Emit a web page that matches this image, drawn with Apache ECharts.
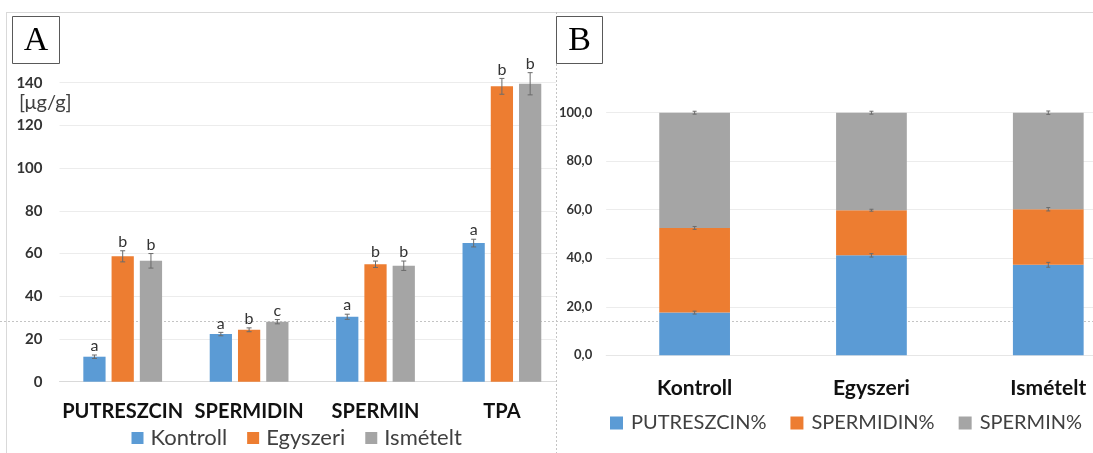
<!DOCTYPE html>
<html><head><meta charset="utf-8">
<script src="https://cdn.jsdelivr.net/npm/echarts@6/dist/echarts.min.js"></script>
<style>
html,body{margin:0;padding:0;background:#fff;}
#wrap{position:relative;width:1093px;height:453px;overflow:hidden;background:#fff;}
#chartA{position:absolute;left:0;top:0;width:640px;height:453px;z-index:1;}
#chartB{position:absolute;left:556px;top:0;width:640px;height:453px;z-index:2;background:#fff;}
</style></head><body>
<div id="wrap"><div id="chartA"></div><div id="chartB"></div></div>
<script>
// ---------- Panel A data ----------
const categoriesA = ['PUTRESZCIN', 'SPERMIDIN', 'SPERMIN', 'TPA'];
const seriesNamesA = ['Kontroll', 'Egyszeri', 'Ismételt'];
const kontroll = [11.7, 22.3, 30.4, 64.9];
const egyszeri = [58.7, 24.3, 55.0, 138.3];
const ismetelt = [56.6, 28.1, 54.3, 139.5];
const kontrollErr = [0.8, 0.8, 1.2, 1.8];
const egyszeriErr = [2.6, 0.9, 1.5, 3.7];
const ismeteltErr = [3.4, 1.0, 2.2, 5.2];
const kontrollLetters = ['a', 'a', 'a', 'a'];
const egyszeriLetters = ['b', 'b', 'b', 'b'];
const ismeteltLetters = ['b', 'c', 'b', 'b'];
const unitLabelA = '[μg/g]';

// ---------- Panel B data ----------
const categoriesB = ['Kontroll', 'Egyszeri', 'Ismételt'];
const seriesNamesB = ['PUTRESZCIN%', 'SPERMIDIN%', 'SPERMIN%'];
const putreszcinPct = [17.6, 41.2, 37.3];
const spermidinPct = [34.9, 18.6, 22.9];
const sperminPct = [47.5, 40.2, 39.8];
const putreszcinPctErr = [0.6, 0.7, 1.0];
const spermidinPctErr = [0.6, 0.4, 0.7];
const sperminPctErr = [0.6, 0.6, 0.7];
const yTickLabelsB = ['0,0', '20,0', '40,0', '60,0', '80,0', '100,0'];

const COLORS = ['#5B9BD5', '#ED7D31', '#A5A5A5'];
const FONT = 'Lato, "Open Sans", sans-serif';
const BAR_W = 0.176, BAR_GAP = 0.27;
const ERR_COLOR = '#6b6b6b';

function errShapes(x, yt, yb, cap) {
  const st = { stroke: ERR_COLOR, lineWidth: 1 };
  return [
    { type: 'line', shape: { x1: x, y1: yt, x2: x, y2: yb }, style: st },
    { type: 'line', shape: { x1: x - cap, y1: yt, x2: x + cap, y2: yt }, style: st },
    { type: 'line', shape: { x1: x - cap, y1: yb, x2: x + cap, y2: yb }, style: st }
  ];
}

function errSeriesA(k, vals, errs, letters) {
  return {
    type: 'custom', z: 5, silent: true,
    data: vals.map((v, i) => [i, v, errs[i]]),
    renderItem: function (params, api) {
      const i = api.value(0), v = api.value(1), e = api.value(2);
      const band = api.size([1, 0])[0];
      const off = (k - 1) * band * BAR_W * (1 + BAR_GAP);
      const x = api.coord([i, v])[0] + off;
      const yt = api.coord([i, v + e])[1];
      const yb = api.coord([i, v - e])[1];
      const ch = errShapes(x, yt, yb, 2.5);
      ch.push({ type: 'text', style: { text: letters[params.dataIndex], x: x, y: yt - 1,
        align: 'center', verticalAlign: 'bottom', font: '16px ' + FONT, fill: '#333' } });
      return { type: 'group', children: ch };
    }
  };
}

const chartA = echarts.init(document.getElementById('chartA'), null, { renderer: 'canvas' });
const valsA = [kontroll, egyszeri, ismetelt];
const errsA = [kontrollErr, egyszeriErr, ismeteltErr];
const lettersA = [kontrollLetters, egyszeriLetters, ismeteltLetters];
chartA.setOption({
  backgroundColor: '#fff',
  animation: false,
  grid: { left: 59.5, top: 82.7, width: 505.6, height: 299 },
  legend: {
    data: seriesNamesA, left: 131.5, top: 427, padding: 0, icon: 'rect', itemWidth: 12, itemHeight: 12, itemGap: 20,
    textStyle: { fontFamily: FONT, fontSize: 22, color: '#404040', padding: [0, 0, 0, 2] }
  },
  xAxis: {
    type: 'category', data: categoriesA,
    axisLine: { lineStyle: { color: '#d9d9d9' } }, axisTick: { show: false },
    axisLabel: { interval: 0, margin: 20, fontFamily: FONT, fontWeight: 'bold', fontSize: 20, color: '#111' }
  },
  yAxis: {
    type: 'value', min: 0, max: 140, interval: 20,
    axisLine: { show: false }, axisTick: { show: false },
    axisLabel: { margin: 17, fontFamily: FONT, fontWeight: 'bold', fontSize: 15, color: '#333' },
    splitLine: { lineStyle: { color: '#ececec' } }
  },
  series: [
    ...valsA.map((vals, k) => ({
      name: seriesNamesA[k], type: 'bar', data: vals, barWidth: (BAR_W * 100) + '%', barGap: (BAR_GAP * 100) + '%',
      itemStyle: { color: COLORS[k] }
    })),
    ...valsA.map((vals, k) => errSeriesA(k, vals, errsA[k], lettersA[k]))
  ],
  graphic: [
    { type: 'line', z: -1, shape: { x1: 0, y1: 321.5, x2: 556, y2: 321.5 }, style: { stroke: '#c4c4c4', lineWidth: 1, lineDash: [2, 2] } },
    { type: 'line', shape: { x1: 6, y1: 12.5, x2: 556, y2: 12.5 }, style: { stroke: '#d9d9d9', lineWidth: 1 } },
    { type: 'line', shape: { x1: 6.5, y1: 12, x2: 6.5, y2: 453 }, style: { stroke: '#d9d9d9', lineWidth: 1 } },
    { type: 'rect', shape: { x: 12.5, y: 16.5, width: 47, height: 47 }, style: { fill: '#fff', stroke: '#595959', lineWidth: 1 } },
    { type: 'text', style: { text: 'A', x: 36, y: 41, align: 'center', verticalAlign: 'middle', font: '34px "Liberation Serif", serif', fill: '#000' } },
    { type: 'text', style: { text: unitLabelA, x: 19, y: 102.7, align: 'left', verticalAlign: 'middle', font: '20px ' + FONT, fill: '#404040' } }
  ]
});

// ---------- Panel B ----------
function errSeriesB(vals, errs, base) {
  return {
    type: 'custom', z: 5, silent: true,
    data: vals.map((v, i) => [i, base[i] + v, errs[i]]),
    renderItem: function (params, api) {
      const i = api.value(0), v = api.value(1), e = api.value(2);
      const x = api.coord([i, v])[0];
      const yt = api.coord([i, v + e])[1];
      const yb = api.coord([i, v - e])[1];
      return { type: 'group', children: errShapes(x, yt, yb, 2) };
    }
  };
}
const valsB = [putreszcinPct, spermidinPct, sperminPct];
const errsB = [putreszcinPctErr, spermidinPctErr, sperminPctErr];
const basesB = [];
let acc = categoriesB.map(() => 0);
valsB.forEach(vals => { basesB.push(acc.slice()); acc = acc.map((a, i) => a + vals[i]); });

const chartB = echarts.init(document.getElementById('chartB'), null, { renderer: 'canvas' });
chartB.setOption({
  backgroundColor: '#fff',
  animation: false,
  grid: { left: 49.7, top: 112.7, width: 531, height: 242.6 },
  legend: {
    data: seriesNamesB, left: 54, top: 413, padding: 0, icon: 'rect', itemWidth: 13, itemHeight: 13, itemGap: 24,
    textStyle: { fontFamily: FONT, fontSize: 20, color: '#404040', padding: [0, 0, 0, 3] }
  },
  xAxis: {
    type: 'category', data: categoriesB,
    axisLine: { lineStyle: { color: '#e6e6e6' } }, axisTick: { show: false },
    axisLabel: { interval: 0, margin: 22, fontFamily: FONT, fontWeight: 'bold', fontSize: 21, color: '#111' }
  },
  yAxis: {
    type: 'value', min: 0, max: 100, interval: 20,
    axisLine: { show: false }, axisTick: { show: false },
    axisLabel: { margin: 14, fontFamily: FONT, fontWeight: 'bold', fontSize: 13, color: '#333',
      formatter: (v) => yTickLabelsB[Math.round(v / 20)] },
    splitLine: { lineStyle: { color: '#ececec' } }
  },
  series: [
    ...valsB.map((vals, k) => ({
      name: seriesNamesB[k], type: 'bar', stack: 'pct', data: vals, barWidth: '40%',
      itemStyle: { color: COLORS[k] }
    })),
    ...valsB.map((vals, k) => errSeriesB(vals, errsB[k], basesB[k]))
  ],
  graphic: [
    { type: 'line', z: -1, shape: { x1: 0, y1: 321.5, x2: 640, y2: 321.5 }, style: { stroke: '#c4c4c4', lineWidth: 1, lineDash: [2, 2] } },
    { type: 'line', shape: { x1: 0, y1: 12.5, x2: 640, y2: 12.5 }, style: { stroke: '#d9d9d9', lineWidth: 1 } },
    { type: 'line', shape: { x1: 0.5, y1: 12, x2: 0.5, y2: 453 }, style: { stroke: '#c4c4c4', lineWidth: 1, lineDash: [2, 2] } },
    { type: 'rect', shape: { x: 0.5, y: 16.5, width: 46, height: 47 }, style: { fill: '#fff', stroke: '#595959', lineWidth: 1 } },
    { type: 'text', style: { text: 'B', x: 23.5, y: 41, align: 'center', verticalAlign: 'middle', font: '34px "Liberation Serif", serif', fill: '#000' } }
  ]
});
</script>
</body></html>
